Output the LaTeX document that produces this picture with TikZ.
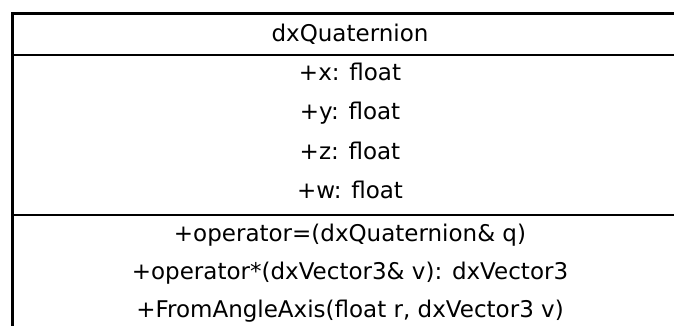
\documentclass[tikz,border=0pt]{standalone}
\usepackage{fontspec}
\setmainfont{DejaVu Sans}
\usetikzlibrary{positioning}

\begin{document}
\begin{tikzpicture}[
  x=0.5pt,y=-0.5pt,
  node distance=12pt,
  member/.style={font=\fontsize{11.5}{13}\selectfont,inner sep=0pt,text height=0.73em,text depth=0pt},
  frame/.style={line width=1.5pt},
  sep/.style={line width=0.8pt}
]
\clip (0,0) rectangle (674,326);
\fill[white] (0,0) rectangle (674,326);

% class box, runs off to the right and bottom
\draw[frame] (690,14) -- (12,14) -- (12,340);
\draw[sep] (12,55) -- (690,55);
\draw[sep] (12,215) -- (690,215);

% name
\node[member] (cls) at (350,34) {dxQuaternion};

% fields
\node[member] (fx) at (350,73) {+x: float};
\node[member,below=of fx] (fy) {+y: float};
\node[member,below=of fy] (fz) {+z: float};
\node[member,below=of fz] (fw) {+w: float};

% operations
\node[member] (massign) at (350,234) {+operator=(dxQuaternion\& q)};
\node[member,below=11.3pt of massign] (mmul) {+operator*(dxVector3\& v): dxVector3};
\node[member,below=11.3pt of mmul] (mfrom) {+FromAngleAxis(float r, dxVector3 v)};
\end{tikzpicture}
\end{document}
